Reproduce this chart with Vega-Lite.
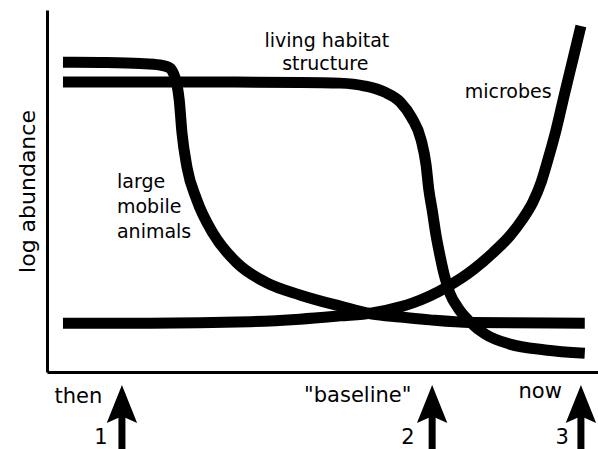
{
  "$schema": "https://vega.github.io/schema/vega-lite/v6.json",
  "width": 551,
  "height": 362,
  "autosize": {"type": "none"},
  "padding": {"left": 47, "top": 10, "right": 0, "bottom": 77},
  "background": "white",
  "config": {
    "view": {"stroke": null},
    "font": "DejaVu Sans",
    "axis": {"domainColor": "black", "domainWidth": 3, "ticks": false, "labels": false, "grid": false}
  },
  "datasets": {
    "curves": [
      {"series": "animals", "x": 2.9, "y": 85.6},
      {"series": "animals", "x": 9.6, "y": 85.5},
      {"series": "animals", "x": 16.9, "y": 85.2},
      {"series": "animals", "x": 20.5, "y": 84.8},
      {"series": "animals", "x": 22.3, "y": 84.0},
      {"series": "animals", "x": 23.0, "y": 82.3},
      {"series": "animals", "x": 23.6, "y": 79.3},
      {"series": "animals", "x": 24.0, "y": 75.1},
      {"series": "animals", "x": 24.5, "y": 66.0},
      {"series": "animals", "x": 25.4, "y": 56.6},
      {"series": "animals", "x": 27.2, "y": 47.5},
      {"series": "animals", "x": 30.1, "y": 38.4},
      {"series": "animals", "x": 34.5, "y": 30.1},
      {"series": "animals", "x": 39.9, "y": 24.6},
      {"series": "animals", "x": 45.9, "y": 21.3},
      {"series": "animals", "x": 53.2, "y": 18.2},
      {"series": "animals", "x": 59.0, "y": 16.0},
      {"series": "animals", "x": 64.1, "y": 15.2},
      {"series": "animals", "x": 69.5, "y": 14.4},
      {"series": "animals", "x": 76.8, "y": 13.7},
      {"series": "animals", "x": 97.6, "y": 13.5},
      {"series": "habitat", "x": 2.9, "y": 80.1},
      {"series": "habitat", "x": 27.8, "y": 80.1},
      {"series": "habitat", "x": 45.9, "y": 80.0},
      {"series": "habitat", "x": 53.2, "y": 79.8},
      {"series": "habitat", "x": 57.7, "y": 79.0},
      {"series": "habitat", "x": 61.3, "y": 77.3},
      {"series": "habitat", "x": 64.1, "y": 74.6},
      {"series": "habitat", "x": 66.2, "y": 70.2},
      {"series": "habitat", "x": 67.9, "y": 64.1},
      {"series": "habitat", "x": 68.8, "y": 57.2},
      {"series": "habitat", "x": 69.3, "y": 50.3},
      {"series": "habitat", "x": 69.9, "y": 44.8},
      {"series": "habitat", "x": 70.6, "y": 37.8},
      {"series": "habitat", "x": 71.3, "y": 32.3},
      {"series": "habitat", "x": 72.1, "y": 26.8},
      {"series": "habitat", "x": 73.1, "y": 21.8},
      {"series": "habitat", "x": 74.6, "y": 17.7},
      {"series": "habitat", "x": 76.8, "y": 13.8},
      {"series": "habitat", "x": 79.5, "y": 10.5},
      {"series": "habitat", "x": 84.0, "y": 7.7},
      {"series": "habitat", "x": 90.4, "y": 6.1},
      {"series": "habitat", "x": 97.6, "y": 5.2},
      {"series": "microbes", "x": 2.9, "y": 13.5},
      {"series": "microbes", "x": 18.7, "y": 13.5},
      {"series": "microbes", "x": 36.8, "y": 13.9},
      {"series": "microbes", "x": 45.9, "y": 14.6},
      {"series": "microbes", "x": 53.2, "y": 15.5},
      {"series": "microbes", "x": 59.0, "y": 16.3},
      {"series": "microbes", "x": 64.1, "y": 18.0},
      {"series": "microbes", "x": 66.4, "y": 19.1},
      {"series": "microbes", "x": 72.6, "y": 23.5},
      {"series": "microbes", "x": 77.3, "y": 28.2},
      {"series": "microbes", "x": 80.9, "y": 32.9},
      {"series": "microbes", "x": 84.0, "y": 37.6},
      {"series": "microbes", "x": 86.2, "y": 42.0},
      {"series": "microbes", "x": 88.2, "y": 47.0},
      {"series": "microbes", "x": 89.7, "y": 52.5},
      {"series": "microbes", "x": 90.9, "y": 58.6},
      {"series": "microbes", "x": 92.4, "y": 66.9},
      {"series": "microbes", "x": 94.0, "y": 77.3},
      {"series": "microbes", "x": 95.5, "y": 86.7},
      {"series": "microbes", "x": 96.9, "y": 95.6}
    ],
    "centerLabels": [
      {"text": "living habitat", "x": 50.8, "y": 89.8},
      {"text": "structure", "x": 50.5, "y": 83.4},
      {"text": "microbes", "x": 83.7, "y": 75.7}
    ],
    "leftLabels": [
      {"text": "large", "x": 12.7, "y": 50.8},
      {"text": "mobile", "x": 12.7, "y": 43.9},
      {"text": "animals", "x": 12.7, "y": 37.0}
    ],
    "timeLabels": [
      {"text": "then", "x": 5.7, "y": -8.56},
      {"text": "\"baseline\"", "x": 56.4, "y": -8.29},
      {"text": "now", "x": 89.5, "y": -7.18}
    ],
    "numbers": [
      {"text": "1", "x": 9.8, "y": -20.0},
      {"text": "2", "x": 65.5, "y": -20.0},
      {"text": "3", "x": 93.5, "y": -20.0}
    ],
    "arrows": [
      {"n": 1, "x": 13.6, "head": -8.84, "bottom": -22, "top": -11.5},
      {"n": 2, "x": 69.9, "head": -8.84, "bottom": -22, "top": -11.5},
      {"n": 3, "x": 96.9, "head": -8.84, "bottom": -22, "top": -11.5}
    ]
  },
  "layer": [
    {
      "data": {"name": "curves"},
      "mark": {"type": "line", "color": "black", "strokeWidth": 11, "strokeCap": "butt", "interpolate": "monotone"},
      "encoding": {
        "x": {"field": "x", "type": "quantitative", "scale": {"domain": [0, 100], "nice": false, "zero": false}, "axis": {"title": null}},
        "y": {"field": "y", "type": "quantitative", "scale": {"domain": [0, 100], "nice": false, "zero": false}, "axis": {"title": "log abundance", "titleFont": "DejaVu Sans", "titleFontSize": 22, "titleFontWeight": "normal", "titleColor": "black", "titlePadding": 8}},
        "detail": {"field": "series"}
      }
    },
    {
      "mark": {"type": "rule", "color": "black", "strokeWidth": 3},
      "encoding": {"y": {"datum": 100}}
    },
    {
      "data": {"name": "centerLabels"},
      "mark": {"type": "text", "align": "center", "baseline": "alphabetic", "fontSize": 19, "color": "black"},
      "encoding": {
        "x": {"field": "x", "type": "quantitative"},
        "y": {"field": "y", "type": "quantitative"},
        "text": {"field": "text"}
      }
    },
    {
      "data": {"name": "leftLabels"},
      "mark": {"type": "text", "align": "left", "baseline": "alphabetic", "fontSize": 19, "color": "black"},
      "encoding": {
        "x": {"field": "x", "type": "quantitative"},
        "y": {"field": "y", "type": "quantitative"},
        "text": {"field": "text"}
      }
    },
    {
      "data": {"name": "timeLabels"},
      "mark": {"type": "text", "align": "center", "baseline": "alphabetic", "fontSize": 21, "color": "black"},
      "encoding": {
        "x": {"field": "x", "type": "quantitative"},
        "y": {"field": "y", "type": "quantitative"},
        "text": {"field": "text"}
      }
    },
    {
      "data": {"name": "numbers"},
      "mark": {"type": "text", "align": "center", "baseline": "alphabetic", "fontSize": 21, "color": "black"},
      "encoding": {
        "x": {"field": "x", "type": "quantitative"},
        "y": {"field": "y", "type": "quantitative"},
        "text": {"field": "text"}
      }
    },
    {
      "data": {"name": "arrows"},
      "mark": {"type": "rule", "color": "black", "strokeWidth": 7},
      "encoding": {
        "x": {"field": "x", "type": "quantitative"},
        "y": {"field": "bottom", "type": "quantitative"},
        "y2": {"field": "top"}
      }
    },
    {
      "data": {"name": "arrows"},
      "mark": {"type": "point", "filled": true, "color": "black", "opacity": 1, "strokeWidth": 0, "size": 1444, "shape": "M0,-1L0.8,1L0,0.65L-0.8,1Z"},
      "encoding": {
        "x": {"field": "x", "type": "quantitative"},
        "y": {"field": "head", "type": "quantitative"}
      }
    }
  ]
}
